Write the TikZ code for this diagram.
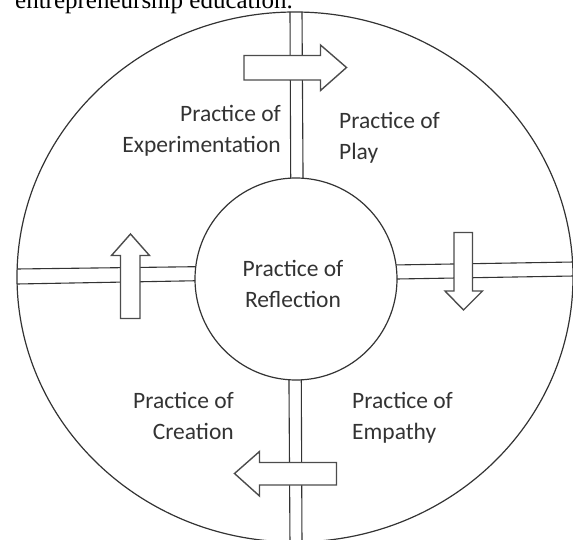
\documentclass[tikz,border=0pt]{standalone}
\usepackage{fontspec}
\setmainfont{Carlito}
\newfontfamily\headfont{Liberation Serif}
\usepackage{tikz}
\usetikzlibrary{positioning}
\usepackage{xcolor}
\definecolor{ink}{HTML}{333333}
\definecolor{rimc}{HTML}{333333}

\begin{document}
\begin{tikzpicture}[x=1pt, y=-1pt,
  every node/.style={font=\fontsize{23.5}{31}\selectfont, text=ink, inner sep=0pt},
  road/.style={rimc, line width=1.1pt},
  blockarr/.style={draw=black!70, line width=1.4pt, fill=white, line join=miter}]
  \useasboundingbox (0,0) rectangle (573,540);
  % caption line cut off at the top
  \node[font=\headfont\fontsize{25}{30}\selectfont, text=black, anchor=base west] (head) at (15,9) {entrepreneurship education.};
  % outer ring
  \draw[rimc, line width=1.2pt] (295,277) ellipse [x radius=278, y radius=265];
  % centre
  \node[circle, draw=rimc, line width=1.2pt, minimum size=202pt, outer sep=0pt] (hub) at (296,279) {};
  \node[align=center, anchor=base] (refl) at (293,307) {Practice of\\Reflection};
  % double lines, rim to hub
  \coordinate (nl) at (290,12);  \coordinate (nr) at (302,12);
  \coordinate (sl) at (290,545); \coordinate (sr) at (302,545);
  \coordinate (wu) at (17,269);  \coordinate (wd) at (17,284);
  \coordinate (eu) at (574,262); \coordinate (ed) at (574,276);
  \draw[road] (nl) -- (hub.93.4) (nr) -- (hub.86.6);
  \draw[road] (hub.266.6) -- (sl) (hub.273.4) -- (sr);
  \draw[road] (wu) -- (hub.173) (wd) -- (hub.181.4);
  \draw[road] (hub.8.4) -- (eu) (hub.0.3) -- (ed);
  % block arrows, clockwise
  \draw[blockarr] (244,55.5) -- (320.5,55.5) -- (320.5,45) -- (346.5,67.5) -- (320.5,90.5) -- (320.5,80) -- (244,80) -- cycle;
  \draw[blockarr] (454,232.5) -- (472.5,232.5) -- (472.5,291) -- (482.5,291) -- (463.5,310) -- (445,291) -- (454,291) -- cycle;
  \draw[blockarr] (336.5,462.5) -- (259.5,462.5) -- (259.5,451.5) -- (234.5,473.5) -- (259.5,496) -- (259.5,485) -- (336.5,485) -- cycle;
  \draw[blockarr] (120.5,318.5) -- (120.5,255.5) -- (111.5,255.5) -- (130.5,234) -- (149.5,255.5) -- (140,255.5) -- (140,318.5) -- cycle;
  % quarter labels (anchored on the second line)
  \node[align=right, anchor=base east] (exper) at (281,153) {Practice of\\Experimentation};
  \node[align=left, anchor=base west] (play) at (339,160) {Practice of\\Play};
  \node[align=left, anchor=base west] (empat) at (352,439) {Practice of\\Empathy};
  \node[align=right, anchor=base east] (creat) at (234,439) {Practice of\\Creation};
\end{tikzpicture}
\end{document}
